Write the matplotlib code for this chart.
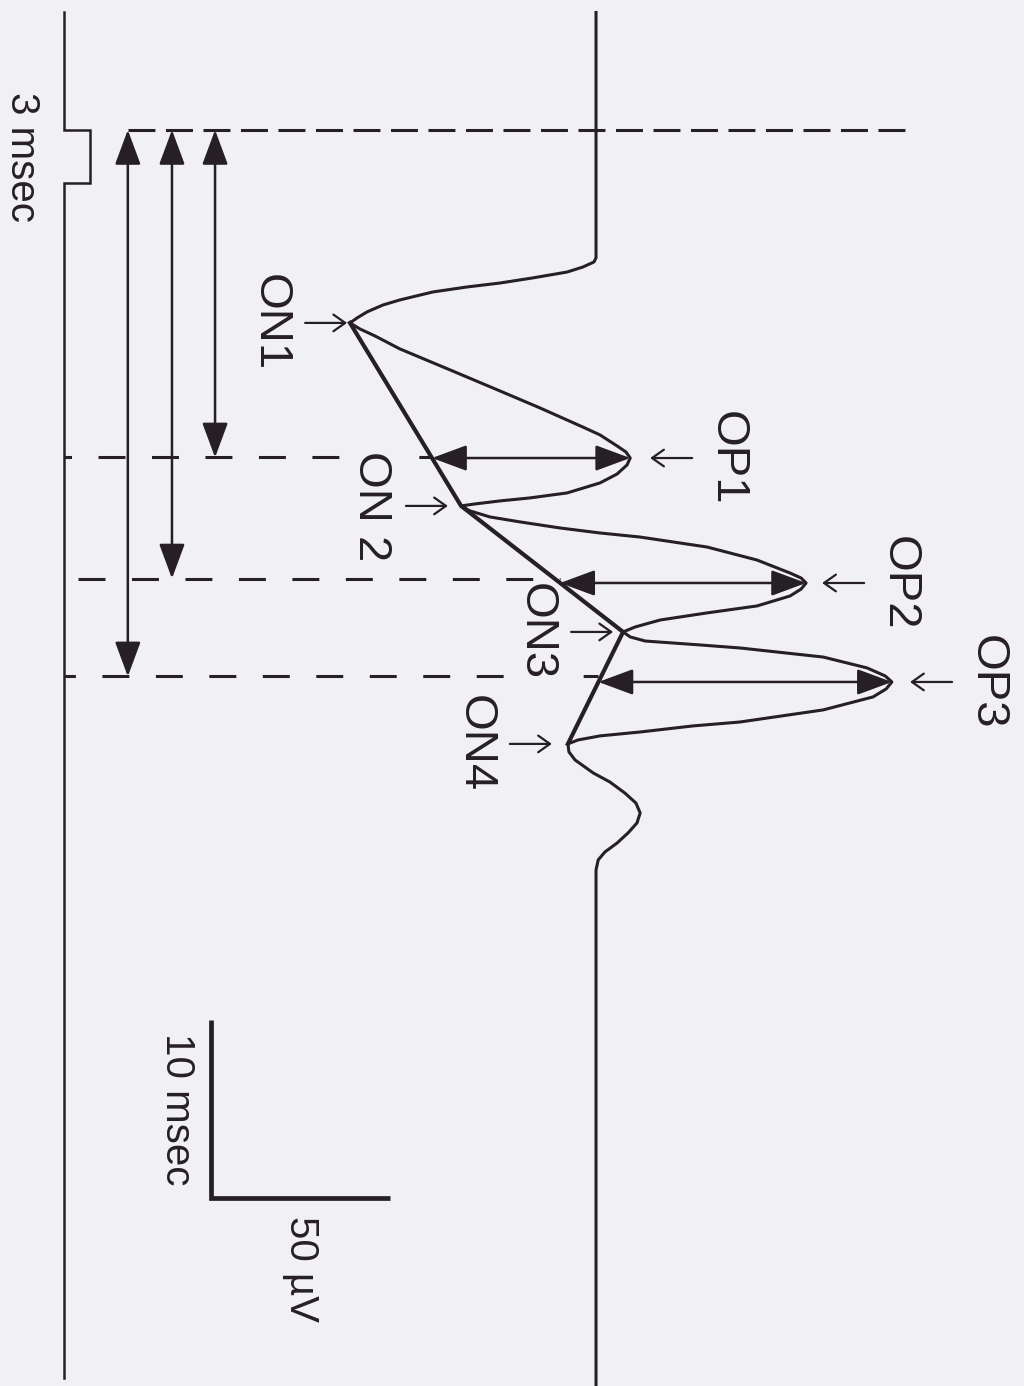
import numpy as np
import matplotlib.pyplot as plt
from matplotlib.patches import FancyArrowPatch

plt.rcParams['font.family'] = ['Liberation Sans', 'DejaVu Sans']
plt.rcParams['lines.scale_dashes'] = False

# ERG trace: time after flash onset (ms) and amplitude (uV)
trace_ms = [-6.6, 7.19, 7.42, 7.70, 7.98, 8.31, 8.60, 8.82, 9.10, 9.55, 9.83, 10.22, 10.56, 10.84,
            11.18, 11.57, 12.30, 13.48, 14.66, 15.62, 16.69, 17.13, 17.75, 18.09, 18.43, 18.82,
            19.33, 19.83, 20.39, 20.67, 20.84, 21.01, 21.12,
            21.40, 21.74, 22.02, 22.36, 22.64, 22.87, 23.43, 24.16, 24.89, 25.17, 25.45, 25.79,
            26.18, 26.74, 27.13, 27.53, 27.92, 28.20,
            28.48, 28.71, 28.93, 29.10, 29.61, 30.22, 30.67, 31.01, 31.40, 31.85, 32.58, 33.26,
            33.48, 33.82, 34.04, 34.27, 34.49,
            34.94, 35.39, 36.12, 36.63, 37.25, 37.81, 38.37, 38.93, 39.49, 40.06, 40.56, 41.01,
            41.57, 71.0]
trace_uv = [0, 0, -0.6, -3.7, -8.1, -17.7, -27.0, -36.2, -45.8, -55.1, -59.8, -64.3, -67.1, -69.1,
            -66.3, -62.1, -55.1, -41.0, -27.0, -15.7, -3.7, 1.1, 5.9, 8.4, 9.6, 8.7,
            5.9, 1.1, -8.1, -18.5, -27.0, -34.0, -37.9,
            -35.4, -29.8, -21.3, -10.1, 1.1, 12.4, 31.2, 45.2, 54.5, 57.6, 59.0, 57.6,
            54.5, 45.2, 31.2, 18.0, 11.0, 7.6,
            9.6, 13.8, 29.2, 40.4, 63.8, 76.1, 81.2, 83.1, 81.5, 77.8, 63.8, 40.4,
            27.2, 12.4, 1.1, -5.1, -7.9,
            -7.6, -5.9, -0.8, 3.9, 8.1, 11.2, 12.4, 11.5, 9.0, 5.9, 2.5, 0.6,
            0, 0]

# troughs (ON) and oscillatory peaks (OP)
on_names = ['ON1', 'ON 2', 'ON3', 'ON4']
on_ms = [10.84, 21.12, 28.20, 34.49]
on_uv = [-69.1, -37.9, 7.6, -7.9]
op_names = ['OP1', 'OP2', 'OP3']
op_ms = [18.43, 25.45, 31.01]
op_uv = [9.6, 59.0, 83.1]
implicit_ms = [18.4, 25.2, 30.7]

stim_onset = 0.0
stim_dur = 3.0
bar_ms = 10
bar_uv = 50

# layout (uV / ms in the drawing frame)
INK = '#261f23'
BG = '#f1f1f3'
stim_base = -149.4
stim_step = 7.3
impl_cols = [-107.0, -119.1, -131.5]
onset_line_end = 86.8
bar_corner = (-108.0, 60.0)
on_gap = [0.8, 3.7, 2.8, 4.5]
op_gap = [5.6, 4.5, 5.1]
small_len = 11.8
label_off = 9.8
dash_offsets = [14.0, 28.4, 11.2]

fig = plt.figure(figsize=(10.24, 13.86), dpi=100)
fig.patch.set_facecolor(BG)
ax = fig.add_axes([0, 0, 1, 1])
ax.set_facecolor(BG)
ax.set_xlim(-167.4, 120.2)
ax.set_ylim(70.56, -7.30)
ax.axis('off')

# stimulus marker
s_t = [trace_ms[0], stim_onset, stim_onset, stim_onset + stim_dur, stim_onset + stim_dur, 70.1]
s_a = [stim_base, stim_base, stim_base + stim_step, stim_base + stim_step, stim_base, stim_base]
ax.plot(s_a, s_t, color=INK, lw=1.8, solid_joinstyle='miter', zorder=4)
ax.text(stim_base - 11.8, stim_onset + stim_dur / 2, '3 msec', rotation=-90,
        ha='center', va='center', fontsize=29, color=INK)

# response trace and trough line
ax.plot(trace_uv, trace_ms, color=INK, lw=2.2, solid_joinstyle='round', zorder=4)
ax.plot(on_uv, on_ms, color=INK, lw=3.0, solid_joinstyle='round', zorder=4)

def arrow(p0, p1, style, lw=1.8):
    ax.add_patch(FancyArrowPatch(p0, p1, arrowstyle=style, mutation_scale=10, lw=lw,
                                 color=INK, shrinkA=0, shrinkB=0, zorder=5))

big = '<|-|>,head_length=2.16,head_width=0.8'
small = '->,head_length=0.85,head_width=0.6'

# onset guide
ax.plot([impl_cols[2], onset_line_end], [stim_onset, stim_onset], color=INK, lw=2.2,
        linestyle=(0, (19.4, 7.6)), zorder=1)

base_uv = np.interp(op_ms, on_ms, on_uv)
for i in range(3):
    ax.plot([stim_base, base_uv[i]], [implicit_ms[i], implicit_ms[i]], color=INK, lw=2.2,
            linestyle=(dash_offsets[i], (19.4, 19.1)), zorder=1)
    arrow((impl_cols[i], stim_onset), (impl_cols[i], implicit_ms[i]), big)
    arrow((base_uv[i], op_ms[i]), (op_uv[i], op_ms[i]), big)
    tip = op_uv[i] + op_gap[i]
    arrow((tip + small_len, op_ms[i]), (tip, op_ms[i]), small, lw=1.6)
    ax.text(tip + small_len + label_off, op_ms[i], op_names[i], rotation=-90, ha='center',
            va='center', fontsize=34, color=INK, zorder=3,
            bbox=dict(facecolor=BG, edgecolor='none', pad=0))

for i in range(4):
    tip = on_uv[i] - on_gap[i]
    arrow((tip - small_len, on_ms[i]), (tip, on_ms[i]), small, lw=1.6)
    ax.text(tip - small_len - label_off, on_ms[i], on_names[i], rotation=-90, ha='center',
            va='center', fontsize=34, color=INK, zorder=3,
            bbox=dict(facecolor=BG, edgecolor='none', pad=0))

# scale bar
bx, by = bar_corner
ax.plot([bx, bx, bx + bar_uv], [by - bar_ms, by, by], color=INK, lw=3.4,
        solid_joinstyle='miter', solid_capstyle='butt')
ax.text(bx - 9.7, by - bar_ms / 2, f'{bar_ms} msec', rotation=-90, ha='center', va='center',
        fontsize=29, color=INK)
ax.text(bx + bar_uv / 2, by + 4.0, f'{bar_uv} µV', rotation=-90, ha='center', va='center',
        fontsize=29, color=INK)

fig.savefig('out.png', dpi=100, facecolor=BG)
